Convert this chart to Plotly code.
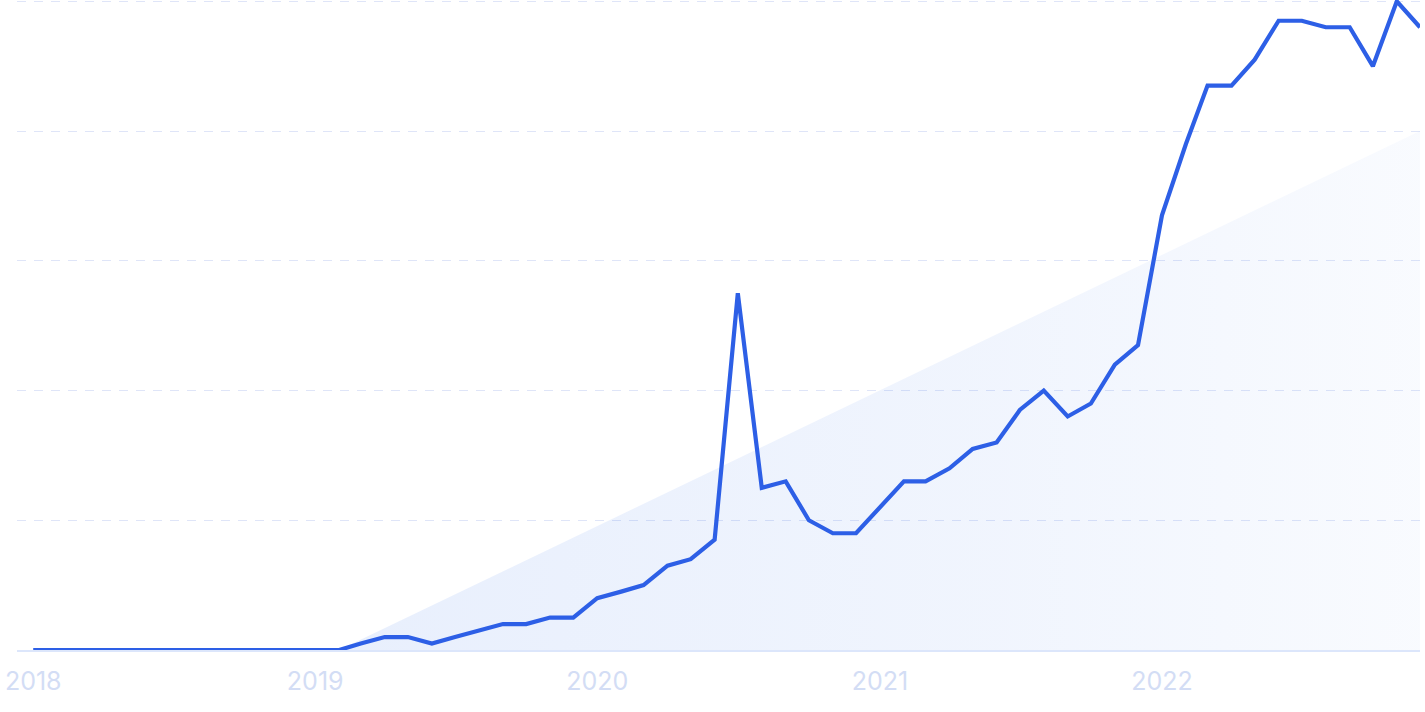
import plotly.graph_objects as go
import pandas as pd

months = pd.date_range("2018-01-01", "2022-12-01", freq="MS").strftime("%Y-%m-%d").tolist()
values = [0]*14 + [1, 2, 2, 1, 2, 3, 4, 4, 5, 5, 8, 9, 10, 13, 14, 17, 55, 25, 26, 20,
                   18, 18, 22, 26, 26, 28, 31, 32, 37, 40, 36, 38, 44, 47, 67, 78, 87, 87,
                   91, 97, 97, 96, 96, 90, 100, 96]
trend_x = ["2019-02-01", "2022-12-01", "2022-12-01"]
trend_y = [0, 80, 0]
tick_vals = ["2018-01-01", "2019-01-01", "2020-01-01", "2021-01-01", "2022-01-01"]
tick_text = ["2018", "2019", "2020", "2021", "2022"]

fig = go.Figure()
fig.add_trace(go.Scatter(
    x=trend_x, y=trend_y, mode="none", fill="toself",
    fillgradient=dict(type="horizontal",
                      colorscale=[[0, "rgba(47,110,235,0.11)"], [0.6, "rgba(47,110,235,0.07)"], [1, "rgba(47,110,235,0.03)"]]),
    hoverinfo="skip", showlegend=False))
fig.add_trace(go.Scatter(
    x=months, y=values, mode="lines",
    line=dict(color="#2d5fe6", width=4.2), showlegend=False, cliponaxis=True))

fig.update_layout(
    width=1425, height=712,
    margin=dict(l=17, r=5, t=0, b=62),
    paper_bgcolor="white", plot_bgcolor="white",
    font=dict(family="Inter", color="#d3ddf5"),
)
fig.update_xaxes(
    range=["2017-12-11", "2022-12-01"], tickvals=tick_vals, ticktext=tick_text,
    showgrid=False, showline=True, linecolor="#dce6fb", linewidth=2,
    ticks="outside", ticklen=8, tickcolor="rgba(0,0,0,0)",
    tickfont=dict(size=25, color="#d3ddf5", family="Inter"), zeroline=False,
)
fig.update_yaxes(
    range=[0, 100.2], tickvals=[20, 40, 60, 80, 100], showticklabels=False, showgrid=True,
    gridcolor="#dfe5f8", griddash="9px,8px", gridwidth=1, zeroline=False,
)
fig.write_html("out.html", config={"displayModeBar": False},
               post_script="document.body.style.margin='0';document.body.style.overflow='hidden';")
